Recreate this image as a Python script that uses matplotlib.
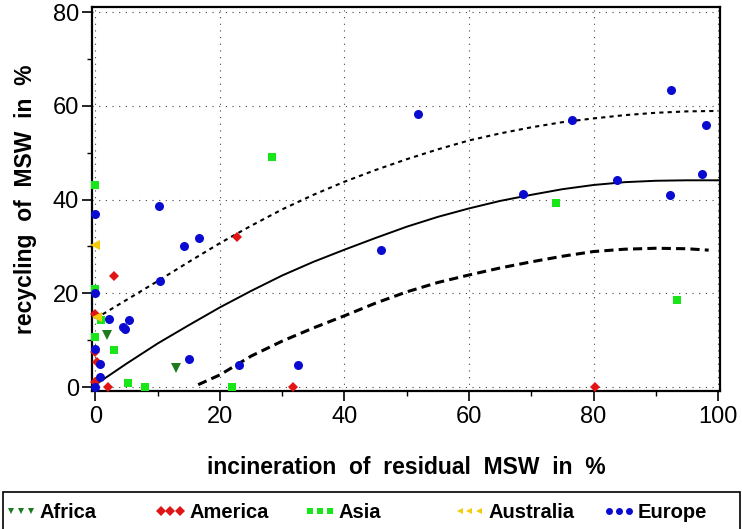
from matplotlib import pyplot as plt
from matplotlib.lines import Line2D
from matplotlib.patches import Rectangle
from matplotlib.ticker import MultipleLocator

plt.rcParams['font.family'] = ['Liberation Sans', 'DejaVu Sans']

# scatter data per region (incineration %, recycling %)
africa_x = [1.8, 12.9]
africa_y = [11.2, 4.1]

america_x = [3.0, 22.8, 0.0, 0.0, 0.3, 0.0, 2.0, 31.8, 80.2]
america_y = [23.7, 32.1, 15.6, 7.5, 5.3, 1.0, 0.0, 0.0, 0.0]

asia_x = [0.0, 0.0, 0.9, 0.0, 2.9, 5.3, 8.0, 21.9, 28.4, 73.9, 93.4]
asia_y = [43.0, 20.9, 14.2, 10.7, 7.9, 0.8, 0.0, 0.0, 49.0, 39.3, 18.6]

australia_x = [0.0, 0.2]
australia_y = [30.2, 15.0]

europe_x = [10.2, 0.0, 10.4, 0.0, 2.1, 4.5, 4.7, 5.4, 0.0, 0.7, 0.8, 0.0,
            14.2, 16.6, 15.0, 23.1, 32.6, 51.8, 45.9, 68.7, 76.6, 83.8,
            92.5, 92.3, 98.1, 97.5]
europe_y = [38.6, 37.0, 22.7, 20.0, 14.5, 12.9, 12.4, 14.3, 8.2, 5.0, 2.2, 0.0,
            30.1, 31.7, 6.0, 4.6, 4.6, 58.2, 29.2, 41.2, 57.0, 44.1,
            63.4, 41.0, 55.8, 45.4]

fit_x = [0, 5, 10, 15, 20, 25, 30, 35, 40, 45, 50, 55, 60, 65, 70, 75, 80, 85, 90, 95, 100]
fit_y = [0.5, 5.0, 9.3, 13.2, 17.0, 20.5, 23.8, 26.7, 29.3, 31.8, 34.2, 36.3, 38.1,
         39.7, 41.0, 42.2, 43.1, 43.7, 44.0, 44.1, 44.1]

upper_x = [0, 5, 10, 15, 20, 25, 30, 35, 40, 45, 50, 55, 60, 65, 70, 75, 80, 85, 90, 95, 100]
upper_y = [14.6, 18.6, 22.6, 26.7, 30.7, 34.4, 37.9, 41.0, 43.8, 46.3, 48.6, 50.7, 52.6,
           54.1, 55.4, 56.5, 57.3, 58.0, 58.5, 58.8, 58.9]

lower_x = [16.5, 20, 25, 30, 35, 40, 45, 50, 55, 60, 65, 70, 75, 80, 85, 90, 95, 98.5]
lower_y = [0.5, 2.6, 6.6, 9.8, 12.6, 15.2, 17.9, 20.3, 22.3, 23.9, 25.4, 26.7, 27.9,
           28.9, 29.4, 29.6, 29.5, 29.2]

regions = ['Africa', 'America', 'Asia', 'Australia', 'Europe']
markers = ['v', 'D', 's', '<', 'o']
colors = ['#1f7a1f', '#e01515', '#19e619', '#f2cc0c', '#0a0ad0']
sizes = [7, 5, 6, 7, 6.5]

W, H = 742, 529
fig = plt.figure(figsize=(W / 100, H / 100), dpi=100)
ax = fig.add_axes([92 / W, 1 - 391 / H, 628 / W, 384 / H])

# curves first, points on top
ax.plot(fit_x, fit_y, color='black', lw=1.4, zorder=3)
ax.plot(upper_x, upper_y, color='black', lw=1.5, dashes=(2, 2), zorder=3)
ax.plot(lower_x, lower_y, color='black', lw=2.2, dashes=(3, 1.7), zorder=3)

all_x = [africa_x, america_x, asia_x, australia_x, europe_x]
all_y = [africa_y, america_y, asia_y, australia_y, europe_y]
for xs, ys, m, c, s in zip(all_x, all_y, markers, colors, sizes):
    ax.plot(xs, ys, linestyle='none', marker=m, color=c, markersize=s,
            markeredgewidth=0, zorder=4, clip_on=False)

ax.set_xlim(-0.56, 100.32)
ax.set_ylim(-0.85, 81.07)
ax.xaxis.set_major_locator(MultipleLocator(20))
ax.xaxis.set_minor_locator(MultipleLocator(10))
ax.yaxis.set_major_locator(MultipleLocator(20))
ax.yaxis.set_minor_locator(MultipleLocator(10))

ax.grid(True, which='major', color='#444444', lw=0.8, linestyle=(0, (1, 5)))
ax.set_axisbelow(True)

for spine in ax.spines.values():
    spine.set_linewidth(1.6)
ax.tick_params(which='major', direction='out', length=7, width=1.2,
               labelsize=17, pad=2.5)
ax.tick_params(which='minor', direction='out', length=3.5, width=1.0)
ax.tick_params(axis='x', which='major', pad=3.5)

ax.set_xlabel('incineration  of  residual  MSW  in  %', fontsize=16.5, fontweight='bold')
ax.set_ylabel('recycling  of  MSW  in  %', fontsize=16.5, fontweight='bold')
ax.xaxis.set_label_coords(0.5, (391 - 467) / 384)
ax.yaxis.set_label_coords((26 - 92) / 628, 0.5)
ax.xaxis.label.set_va('center')
ax.yaxis.label.set_va('center')
ax.yaxis.label.set_ha('center')

# legend strip under the plot
fig.add_artist(Rectangle((3 / W, -0.05), 737 / W, 0.05 + (529 - 492) / H,
                         transform=fig.transFigure, fill=False,
                         edgecolor='black', lw=1.2, clip_on=False))
for i, (name, m, c) in enumerate(zip(regions, markers, colors)):
    handle = Line2D([], [], linestyle='none', marker=m, color=c,
                    markersize=5, markeredgewidth=0)
    fig.legend([handle], [name], loc='center left',
               bbox_to_anchor=((5 + i * 149.5) / W, 1 - 513 / H),
               frameon=False, numpoints=3, handlelength=1.58,
               handletextpad=0.15, borderpad=0, borderaxespad=0,
               prop={'size': 14.5, 'weight': 'bold'})

fig.savefig('out.png', dpi=100)
